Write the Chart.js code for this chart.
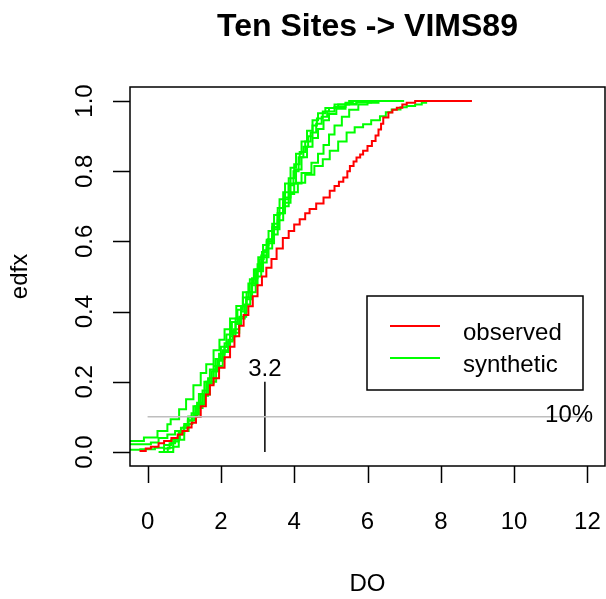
<!DOCTYPE html>
<html lang="en">
<head>
  <meta charset="UTF-8">
  <title>Ten Sites -> VIMS89</title>
  <style>
    body { margin: 0; background: #fff; }
    canvas { display: block; }
  </style>
</head>
<body>
  <canvas id="edfChart" width="606" height="599"></canvas>

  <script src="https://cdn.jsdelivr.net/npm/chart.js"></script>
  <script>
    // ECDF points [DO, edfx]
    const observed = [
      [-0.22,0.003],[-0.05,0.01],[0.09,0.015],[0.3,0.025],[0.45,0.031],[0.65,0.04],[0.82,0.05],[0.95,0.06],
      [1.09,0.07],[1.2,0.083],[1.32,0.1],[1.45,0.13],[1.59,0.164],[1.7,0.19],[1.8,0.21],[1.95,0.24],
      [2.1,0.27],[2.25,0.3],[2.37,0.33],[2.5,0.36],[2.62,0.39],[2.75,0.415],[2.87,0.444],[3.0,0.475],
      [3.12,0.5],[3.24,0.525],[3.38,0.55],[3.52,0.58],[3.69,0.61],[3.85,0.63],[4.0,0.648],[4.15,0.663],
      [4.3,0.68],[4.42,0.692],[4.6,0.708],[4.8,0.725],[4.97,0.744],[5.1,0.758],[5.22,0.77],[5.34,0.782],
      [5.45,0.8],[5.52,0.815],[5.62,0.828],[5.7,0.839],[5.8,0.848],[5.88,0.858],[6.0,0.872],[6.12,0.886],
      [6.22,0.902],[6.3,0.919],[6.37,0.935],[6.43,0.953],[6.57,0.967],[6.68,0.975],[6.8,0.981],[6.95,0.99],
      [7.07,0.995],[7.3,1.0],[8.85,1.0]
    ];

    const synth1 = [
      [-0.5,0.031],[-0.1,0.041],[0.27,0.06],[0.54,0.079],[0.63,0.093],[0.86,0.122],[1.05,0.15],[1.25,0.19],
      [1.45,0.225],[1.6,0.25],[1.8,0.29],[1.96,0.32],[2.1,0.35],[2.25,0.38],[2.42,0.416],[2.6,0.455],
      [2.79,0.492],[2.92,0.52],[3.05,0.549],[3.17,0.575],[3.28,0.606],[3.42,0.64],[3.55,0.68],[3.7,0.72],
      [3.85,0.76],[3.98,0.8],[4.12,0.84],[4.25,0.87],[4.38,0.9],[4.5,0.93],[4.62,0.95],[4.78,0.97],
      [4.95,0.98],[5.2,0.99],[5.5,1.0],[5.9,1.0]
    ];
    const synth2 = [
      [-0.5,0.022],[0.09,0.027],[0.3,0.04],[0.54,0.05],[0.75,0.06],[0.91,0.069],[1.1,0.09],[1.27,0.107],
      [1.4,0.135],[1.55,0.164],[1.7,0.2],[1.87,0.245],[2.05,0.285],[2.2,0.315],[2.32,0.34],[2.5,0.385],
      [2.69,0.435],[2.85,0.48],[2.96,0.52],[3.1,0.56],[3.25,0.6],[3.4,0.64],[3.55,0.68],[3.7,0.71],
      [3.9,0.74],[4.1,0.767],[4.3,0.79],[4.55,0.815],[4.78,0.834],[4.97,0.858],[5.2,0.885],[5.43,0.91],
      [5.65,0.925],[5.88,0.934],[6.1,0.945],[6.34,0.957],[6.5,0.968],[6.66,0.976],[6.9,0.982],[7.07,0.986],
      [7.3,0.99],[7.48,0.995],[7.6,1.0],[8.26,1.0]
    ];
    const synth3 = [
      [-0.5,0.006],[-0.2,0.008],[0.2,0.012],[0.45,0.02],[0.65,0.035],[0.85,0.055],[1.0,0.075],[1.12,0.1],
      [1.3,0.13],[1.45,0.165],[1.6,0.2],[1.75,0.23],[1.9,0.26],[2.05,0.29],[2.2,0.32],[2.35,0.35],
      [2.5,0.38],[2.65,0.42],[2.8,0.455],[2.95,0.5],[3.1,0.54],[3.25,0.58],[3.4,0.62],[3.55,0.66],
      [3.7,0.7],[3.85,0.735],[4.0,0.765],[4.2,0.795],[4.47,0.824],[4.65,0.85],[4.8,0.875],[4.95,0.905],
      [5.1,0.93],[5.3,0.955],[5.5,0.975],[5.75,0.99],[6.0,0.995],[6.3,1.0],[6.9,1.0]
    ];
    const synth4 = [
      [0.3,0.0],[0.45,0.01],[0.6,0.025],[0.75,0.04],[0.88,0.06],[1.0,0.08],[1.1,0.1],[1.25,0.13],
      [1.4,0.165],[1.55,0.2],[1.7,0.235],[1.85,0.265],[2.0,0.3],[2.15,0.335],[2.3,0.37],[2.45,0.405],
      [2.6,0.44],[2.75,0.48],[2.9,0.52],[3.02,0.555],[3.15,0.59],[3.3,0.63],[3.45,0.675],[3.6,0.72],
      [3.75,0.765],[3.9,0.81],[4.05,0.85],[4.2,0.885],[4.35,0.915],[4.5,0.945],[4.65,0.965],[4.85,0.98],
      [5.1,0.99],[5.4,0.995],[5.6,1.0],[6.0,1.0]
    ];
    const synth5 = [
      [0.4,0.0],[0.55,0.012],[0.7,0.03],[0.85,0.05],[0.98,0.07],[1.1,0.09],[1.2,0.11],[1.35,0.14],
      [1.5,0.175],[1.65,0.21],[1.8,0.245],[1.95,0.28],[2.1,0.31],[2.25,0.345],[2.4,0.38],[2.55,0.415],
      [2.7,0.455],[2.85,0.495],[3.0,0.535],[3.12,0.57],[3.25,0.605],[3.4,0.65],[3.55,0.695],[3.7,0.74],
      [3.85,0.78],[4.0,0.82],[4.15,0.855],[4.3,0.885],[4.45,0.91],[4.6,0.935],[4.75,0.955],[4.9,0.97],
      [5.1,0.983],[5.4,0.992],[5.7,0.997],[6.0,1.0],[6.6,1.0]
    ];
    const synth6 = [
      [0.55,0.0],[0.7,0.015],[0.85,0.035],[1.0,0.06],[1.12,0.08],[1.22,0.1],[1.35,0.125],[1.5,0.16],
      [1.65,0.195],[1.8,0.23],[1.95,0.265],[2.1,0.3],[2.25,0.33],[2.4,0.365],[2.55,0.4],[2.7,0.44],
      [2.85,0.475],[3.0,0.515],[3.15,0.555],[3.3,0.595],[3.45,0.635],[3.6,0.68],[3.75,0.725],[3.9,0.765],
      [4.05,0.805],[4.2,0.84],[4.35,0.87],[4.5,0.895],[4.65,0.92],[4.8,0.945],[4.95,0.963],[5.15,0.978],
      [5.4,0.99],[5.7,0.996],[6.1,1.0],[7.0,1.0]
    ];
    const synthetic = [synth1, synth2, synth3, synth4, synth5, synth6];

    // reference marks
    const tenPctLine = [[0, 0.1], [12, 0.1]];
    const cutLine = [[3.2, 0], [3.2, 0.2]];
    const cutLabel = { x: 3.2, y: 0.243, text: '3.2' };
    const pctLabel = { x: 11.5, y: 0.112, text: '10%' };

    const xTicks = [0, 2, 4, 6, 8, 10, 12];
    const yTicks = [0, 0.2, 0.4, 0.6, 0.8, 1.0];
    const legendItems = ['observed', 'synthetic'];
    const titleText = 'Ten Sites -> VIMS89';

    const FONT = "'Liberation Sans', Arial, sans-serif";
    const toXY = arr => arr.map(p => ({ x: p[0], y: p[1] }));

    const datasets = [
      { label: '10%', data: toXY(tenPctLine), borderColor: '#bebebe', borderWidth: 1.5, order: 0 },
      { label: 'cut', data: toXY(cutLine), borderColor: '#000', borderWidth: 1.5, order: 1 },
      { label: legendItems[0], data: toXY(observed), borderColor: '#ff0000', borderWidth: 2, stepped: true, order: 2 }
    ];
    synthetic.forEach((s, i) => {
      datasets.push({ label: legendItems[1], data: toXY(s), borderColor: '#00ff00', borderWidth: 2, stepped: true, order: 3 + i });
    });

    // title over the plot box, box, tick marks, rotated y labels, annotations and legend, R-style
    const rDecor = {
      id: 'rDecor',
      afterDraw(chart) {
        const { ctx, chartArea: a, scales: { x, y } } = chart;
        ctx.save();
        ctx.fillStyle = '#000';
        ctx.textAlign = 'center';
        ctx.textBaseline = 'alphabetic';
        ctx.font = 'bold 32px ' + FONT;
        ctx.fillText(titleText, (a.left + a.right) / 2, 36);

        ctx.strokeStyle = '#000';
        ctx.lineWidth = 1.5;
        ctx.strokeRect(a.left, a.top, a.right - a.left, a.bottom - a.top);

        const tick = 17;
        ctx.beginPath();
        xTicks.forEach(v => {
          const px = Math.round(x.getPixelForValue(v)) + 0.5;
          ctx.moveTo(px, a.bottom);
          ctx.lineTo(px, a.bottom + tick);
        });
        yTicks.forEach(v => {
          const py = Math.round(y.getPixelForValue(v)) + 0.5;
          ctx.moveTo(a.left, py);
          ctx.lineTo(a.left - tick, py);
        });
        ctx.stroke();

        ctx.font = '24px ' + FONT;
        ctx.textBaseline = 'middle';
        yTicks.forEach(v => {
          ctx.save();
          ctx.translate(85, y.getPixelForValue(v));
          ctx.rotate(-Math.PI / 2);
          ctx.fillText(v.toFixed(1), 0, 0);
          ctx.restore();
        });

        ctx.textBaseline = 'alphabetic';
        ctx.fillText(cutLabel.text, x.getPixelForValue(cutLabel.x), y.getPixelForValue(cutLabel.y) + 9);
        ctx.fillText(pctLabel.text, x.getPixelForValue(pctLabel.x), y.getPixelForValue(pctLabel.y) + 9);

        // legend
        ctx.lineWidth = 1.5;
        ctx.strokeRect(367, 296, 216, 94);
        ctx.textAlign = 'left';
        [datasets[2], datasets[3]].forEach((d, i) => {
          const ly = 326 + i * 32;
          ctx.strokeStyle = d.borderColor;
          ctx.lineWidth = 2;
          ctx.beginPath();
          ctx.moveTo(390, ly);
          ctx.lineTo(440, ly);
          ctx.stroke();
          ctx.fillText(d.label, 463, ly + 14);
        });
        ctx.restore();
      }
    };

    new Chart(document.getElementById('edfChart'), {
      type: 'line',
      data: { datasets },
      options: {
        responsive: false,
        animation: false,
        layout: { padding: { left: 0, right: 1, top: 87, bottom: 0 } },
        elements: { point: { radius: 0 }, line: { tension: 0 } },
        plugins: {
          legend: { display: false },
          tooltip: { enabled: false },
          title: { display: false }
        },
        scales: {
          x: {
            type: 'linear',
            min: -0.48,
            max: 12.48,
            afterBuildTicks: s => { s.ticks = xTicks.map(v => ({ value: v })); },
            afterFit: s => { s.height = 133; s.paddingLeft = 0; s.paddingRight = 0; },
            grid: { display: false, tickLength: 17 },
            border: { display: false },
            ticks: { color: '#000', font: { family: FONT, size: 24 }, padding: 25, maxRotation: 0 },
            title: { display: true, text: 'DO', color: '#000', font: { family: FONT, size: 24 }, padding: { top: 0, bottom: 0 } }
          },
          y: {
            type: 'linear',
            min: -0.04,
            max: 1.04,
            afterBuildTicks: s => { s.ticks = yTicks.map(v => ({ value: v })); },
            afterFit: s => { s.width = 130; s.paddingTop = 0; s.paddingBottom = 0; },
            grid: { display: false },
            border: { display: false },
            ticks: { display: false },
            title: { display: true, text: 'edfx', color: '#000', font: { family: FONT, size: 24 }, padding: { top: 6, bottom: 0 } }
          }
        }
      },
      plugins: [rDecor]
    });
  </script>
</body>
</html>
